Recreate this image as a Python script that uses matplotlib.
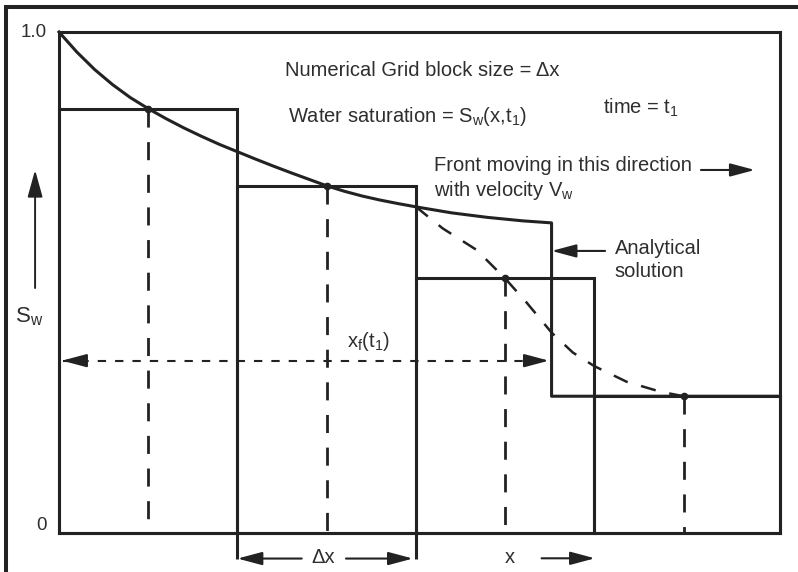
import matplotlib
matplotlib.use('Agg')
import matplotlib.pyplot as plt
from matplotlib.lines import Line2D

plt.rcParams['font.family'] = ['Liberation Sans', 'DejaVu Sans']
plt.rcParams['mathtext.fontset'] = 'custom'
plt.rcParams['mathtext.rm'] = 'Liberation Sans'
plt.rcParams['mathtext.it'] = 'Liberation Sans'
plt.rcParams['mathtext.bf'] = 'Liberation Sans:bold'
plt.rcParams['lines.scale_dashes'] = False

LINE = '#222222'
TEXT = '#2e2e2e'

# ---------------- data ----------------
block_left = [0, 1, 2, 3]
block_width = [1, 1, 1, 1.04]
block_sat = [0.847, 0.693, 0.508, 0.273]
block_center = [0.5, 1.5, 2.5, 3.5]

# analytical solution (solid), ends with the shock front drop
analytic_x = [0.0, 0.1, 0.2, 0.3, 0.4, 0.5, 0.6, 0.7, 0.8, 0.9, 1.0,
              1.1, 1.2, 1.3, 1.4, 1.5, 1.6, 1.7, 1.8, 1.9, 2.0,
              2.2, 2.4, 2.6, 2.76, 2.76, 4.04]
analytic_y = [1.0, 0.960, 0.925, 0.895, 0.869, 0.847, 0.827, 0.8085, 0.7915, 0.7755, 0.761,
              0.7465, 0.7325, 0.719, 0.706, 0.693, 0.682, 0.6725, 0.6645, 0.6575, 0.651,
              0.639, 0.630, 0.623, 0.619, 0.273, 0.273]

# smeared (numerical) profile (dashed)
numeric_x = [2.0, 2.15, 2.34, 2.5, 2.62, 2.76, 2.88, 3.0, 3.18, 3.37, 3.5]
numeric_y = [0.651, 0.608, 0.565, 0.508, 0.46, 0.40, 0.36, 0.333, 0.302, 0.282, 0.273]

front_pos = 2.76
xf_level = 0.344
y_ticks = [0, 1.0]
y_tick_labels = ['0', '1.0']

# ---------------- figure ----------------
fig = plt.figure(figsize=(7.98, 5.72), dpi=100)
ax = fig.add_axes([59 / 798, 39 / 572, 721 / 798, 501 / 572])
ax.set_xlim(0, 4.04)
ax.set_ylim(0, 1.0)
ax.set_xticks([])
ax.set_yticks([])
for s in ax.spines.values():
    s.set_linewidth(2.2)
    s.set_color(LINE)

# outer frame (left and top)
fig.add_artist(Line2D([6 / 798, 6 / 798], [0, 565 / 572], transform=fig.transFigure,
                      color=LINE, lw=2.9, solid_capstyle='butt'))
fig.add_artist(Line2D([4 / 798, 1], [565 / 572, 565 / 572], transform=fig.transFigure,
                      color=LINE, lw=2.9, solid_capstyle='butt'))

# grid blocks
ax.bar(block_left, block_sat, width=block_width, align='edge', fill=False,
       edgecolor=LINE, linewidth=2.2, clip_on=False, zorder=3)

# dashed verticals from block centre values
for c, s in zip(block_center, block_sat):
    ax.plot([c, c], [s, 0], color=LINE, lw=2.0, dashes=(13, 10.5), zorder=2)
ax.plot(block_center, block_sat, 'o', color=LINE, ms=4.5, zorder=4)

# analytical solution
ax.plot(analytic_x, analytic_y, color=LINE, lw=2.2, solid_joinstyle='round',
        clip_on=False, zorder=4)
# numerical profile
ax.plot(numeric_x, numeric_y, color=LINE, lw=1.8, dashes=(11, 10), zorder=3)


def arrow(tip, tail, ms=20, hl=0.75, hw=0.2, lw=1.5):
    ax.annotate('', xy=tip, xytext=tail, xycoords='data', textcoords='data',
                arrowprops=dict(arrowstyle='-|>,head_length=%g,head_width=%g' % (hl, hw),
                                mutation_scale=ms, lw=lw, color=LINE,
                                shrinkA=0, shrinkB=0),
                annotation_clip=False)


# x_f(t1) dashed double arrow
ax.plot([0.02, front_pos - 0.02], [xf_level, xf_level], color=LINE, lw=1.5,
        dashes=(6, 6.5), zorder=3)
arrow((0.017, xf_level), (0.14, xf_level))
arrow((front_pos - 0.015, xf_level), (front_pos - 0.14, xf_level))
ax.text(1.613, 0.371, r'$\mathregular{x_f(t_1)}$', fontsize=14.5, color=TEXT,
        ha='left', va='baseline')

# texts
fs = 14.5
ax.text(1.266, 0.913, 'Numerical Grid block size = Δx', fontsize=fs, color=TEXT,
        ha='left', va='baseline')
ax.text(1.283, 0.821, r'Water saturation = $\mathregular{S_w(x{,}t_1)}$', fontsize=fs,
        color=TEXT, ha='left', va='baseline')
ax.text(3.048, 0.836, r'time = $\mathregular{t_1}$', fontsize=fs, color=TEXT,
        ha='left', va='baseline')
ax.text(2.103, 0.7216, 'Front moving in this direction', fontsize=fs, color=TEXT,
        ha='left', va='baseline')
ax.text(2.103, 0.6717, r'with velocity $\mathregular{V_w}$', fontsize=fs, color=TEXT,
        ha='left', va='baseline')
arrow((3.899, 0.7246), (3.597, 0.7246))
ax.text(3.115, 0.557, 'Analytical', fontsize=fs, color=TEXT, ha='left', va='baseline')
ax.text(3.115, 0.510, 'solution', fontsize=fs, color=TEXT, ha='left', va='baseline')
arrow((front_pos, 0.563), (3.06, 0.563))

# y labels
for v, lab in zip(y_ticks, y_tick_labels):
    dy = 0 if v == 1.0 else 8
    ax.annotate(lab, xy=(0, v), xytext=(-12, dy), xycoords='data',
                textcoords='offset pixels', ha='right', va='center',
                fontsize=13.5, color=TEXT, annotation_clip=False)

# S_w axis arrow + label
arrow((-0.134, 0.7246), (-0.134, 0.489), hl=0.83, hw=0.23, lw=1.4)
ax.text(-0.17, 0.431, r'$\mathregular{S_w}$', fontsize=16, color=TEXT,
        ha='center', va='center', clip_on=False)

# Δx dimension below block 2
for xe in [1, 2]:
    ax.plot([xe, xe], [0, -0.052], color=LINE, lw=2.2, clip_on=False,
            solid_capstyle='butt')
arrow((1.0, -0.051), (1.36, -0.051))
arrow((1.983, -0.051), (1.608, -0.051))
ax.text(1.48, -0.048, 'Δx', fontsize=14.5, color=TEXT, ha='center', va='center',
        clip_on=False)

# x direction label
ax.text(2.525, -0.049, 'x', fontsize=14.5, color=TEXT, ha='center', va='center',
        clip_on=False)
arrow((3.003, -0.0505), (2.704, -0.0505))

fig.savefig('out.png', dpi=100)
